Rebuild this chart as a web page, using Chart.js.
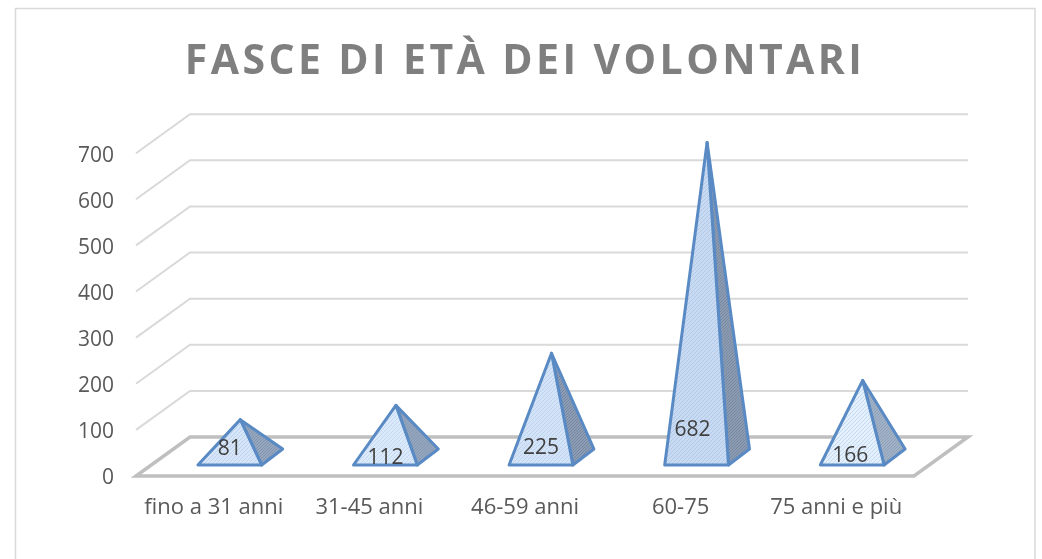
<!DOCTYPE html>
<html>
<head>
<meta charset="utf-8">
<style>
  html, body { margin: 0; padding: 0; background: #fff; }
  #wrap { position: relative; width: 1042px; height: 559px; }
</style>
<script src="https://cdn.jsdelivr.net/npm/chart.js@4"></script>
</head>
<body>
<div id="wrap"><canvas id="myChart"></canvas></div>
<script>
const titleText = 'FASCE DI ETÀ DEI VOLONTARI';
const categories = ['fino a 31 anni', '31-45 anni', '46-59 anni', '60-75', '75 anni e più'];
const volontari = [81, 112, 225, 682, 166];
const yTicks = [0, 100, 200, 300, 400, 500, 600, 700];

// labels were dragged by hand in the original, so each has its own nudge from the base centre
const labelNudge = [[0, -16], [0, -7], [0, -17], [-4, -35], [-2, -9]];

// the hatching looks different on each pyramid in the original: [background, line]
const frontTones = [['#d6e6f8', '#bcd3ee'], ['#dbeafb', '#c4d9f1'], ['#d3e4f8', '#bcd2ed'], ['#c8dbf3', '#b1c8e6'], ['#e4f0fc', '#c4daf2']];
const sideTones = [['#94a7bf', '#8193ad'], ['#93a6be', '#8698b1'], ['#8c9db5', '#75869f'], ['#8a9bb2', '#7889a1'], ['#a2b2c6', '#8fa1b9']];

// 3d look of the excel chart
const wallDepth = { x: 54, y: -39 };
const baseStart = { x: 16, y: -11 };
const baseDepth = { x: 21, y: -16 };

function hatch(tone, step) {
    const c = document.createElement('canvas');
    c.width = step;
    c.height = step;
    const g = c.getContext('2d');
    g.fillStyle = tone[0];
    g.fillRect(0, 0, step, step);
    g.strokeStyle = tone[1];
    g.lineWidth = 1;
    g.beginPath();
    g.moveTo(-1, 1);
    g.lineTo(1, -1);
    g.moveTo(0, step);
    g.lineTo(step, 0);
    g.moveTo(step - 1, step + 1);
    g.lineTo(step + 1, step - 1);
    g.stroke();
    return c;
}

const frame3d = {
    id: 'frame3d',
    beforeDatasetsDraw(chart) {
        const ctx = chart.ctx;
        const y = chart.scales.y;
        const left = chart.chartArea.left;
        const right = chart.chartArea.right;
        ctx.save();
        yTicks.forEach(v => {
            if (v === 0) return;
            const py = y.getPixelForValue(v);
            ctx.beginPath();
            ctx.moveTo(left, py);
            ctx.lineTo(left + wallDepth.x, py + wallDepth.y);
            ctx.lineTo(right + wallDepth.x, py + wallDepth.y);
            ctx.strokeStyle = '#d9d9d9';
            ctx.lineWidth = 2;
            ctx.stroke();
        });
        const p0 = y.getPixelForValue(0);
        ctx.beginPath();
        ctx.moveTo(left, p0);
        ctx.lineTo(right, p0);
        ctx.lineTo(right + wallDepth.x, p0 + wallDepth.y);
        ctx.lineTo(left + wallDepth.x, p0 + wallDepth.y);
        ctx.closePath();
        ctx.strokeStyle = '#bfbfbf';
        ctx.lineWidth = 3.5;
        ctx.stroke();
        ctx.restore();
    }
};

const pyramids = {
    id: 'pyramids',
    afterDatasetsDraw(chart) {
        const ctx = chart.ctx;
        const y = chart.scales.y;
        const bars = chart.getDatasetMeta(0).data;
        ctx.save();
        bars.forEach((bar, i) => {
            const half = bar.width / 2;
            const bx = bar.x + baseStart.x;
            const by = y.getPixelForValue(0) + baseStart.y;
            const tipX = bx + baseDepth.x / 2;
            const tipY = y.getPixelForValue(volontari[i]) + baseStart.y + baseDepth.y / 2;

            ctx.lineJoin = 'round';
            ctx.lineWidth = 3;
            ctx.strokeStyle = '#5a8ac4';

            ctx.beginPath();
            ctx.moveTo(bx + half, by);
            ctx.lineTo(bx + half + baseDepth.x, by + baseDepth.y);
            ctx.lineTo(tipX, tipY);
            ctx.closePath();
            ctx.fillStyle = ctx.createPattern(hatch(sideTones[i], 3), 'repeat');
            ctx.fill();
            ctx.stroke();

            ctx.beginPath();
            ctx.moveTo(bx - half, by);
            ctx.lineTo(bx + half, by);
            ctx.lineTo(tipX, tipY);
            ctx.closePath();
            ctx.fillStyle = ctx.createPattern(hatch(frontTones[i], 4), 'repeat');
            ctx.fill();
            ctx.stroke();

            ctx.font = '21px "Open Sans"';
            ctx.fillStyle = '#404040';
            ctx.textAlign = 'center';
            ctx.textBaseline = 'middle';
            ctx.fillText(String(volontari[i]), bx + labelNudge[i][0], by + labelNudge[i][1]);
        });
        ctx.restore();
    }
};

// chart.js has no letter spacing option for the title
const spacedTitle = {
    id: 'spacedTitle',
    afterLayout(chart) {
        const t = chart.titleBlock;
        if (!t || t._spaced) return;
        const d = t.draw;
        t.draw = function () {
            chart.ctx.letterSpacing = '3.4px';
            d.call(t);
            chart.ctx.letterSpacing = '0px';
        };
        t._spaced = true;
    }
};

// y labels sit a bit lower than the value in the original
const lowerYLabels = {
    id: 'lowerYLabels',
    afterUpdate(chart) {
        chart.scales.y.getLabelItems().forEach(item => {
            item.options.translation[1] += 2.5;
        });
    }
};

const borderBox = {
    id: 'borderBox',
    beforeDraw(chart) {
        const ctx = chart.ctx;
        ctx.save();
        ctx.strokeStyle = '#d9d9d9';
        ctx.lineWidth = 1.5;
        ctx.strokeRect(15.5, 8.5, 1019.5, 560);
        ctx.restore();
    }
};

Chart.defaults.font.family = '"Open Sans"';
Chart.defaults.animation = false;

new Chart(document.getElementById('myChart'), {
    type: 'bar',
    data: {
        labels: categories,
        datasets: [{
            label: 'Volontari',
            data: volontari,
            backgroundColor: 'transparent',
            borderWidth: 0,
            categoryPercentage: 1,
            barPercentage: 0.41
        }]
    },
    options: {
        responsive: true,
        maintainAspectRatio: false,
        layout: { padding: { top: 38, right: 128, left: 0, bottom: 0 } },
        plugins: {
            legend: { display: false },
            tooltip: { enabled: false },
            title: {
                display: true,
                fullSize: false,
                text: titleText,
                color: '#7f7f7f',
                font: { size: 41, weight: 'bold', family: '"Open Sans"' },
                padding: { top: 0, bottom: 66 }
            }
        },
        scales: {
            x: {
                grid: { display: false },
                border: { display: false },
                ticks: { color: '#595959', font: { size: 22 }, padding: 11, maxRotation: 0 },
                afterFit(s) { s.height = 83; }
            },
            y: {
                min: 0,
                max: 700,
                grid: { display: false },
                border: { display: false },
                ticks: { stepSize: 100, color: '#595959', font: { size: 21 }, padding: 14 },
                afterFit(s) { s.width = 136; }
            }
        }
    },
    plugins: [borderBox, frame3d, pyramids, spacedTitle, lowerYLabels]
});
</script>
</body>
</html>
